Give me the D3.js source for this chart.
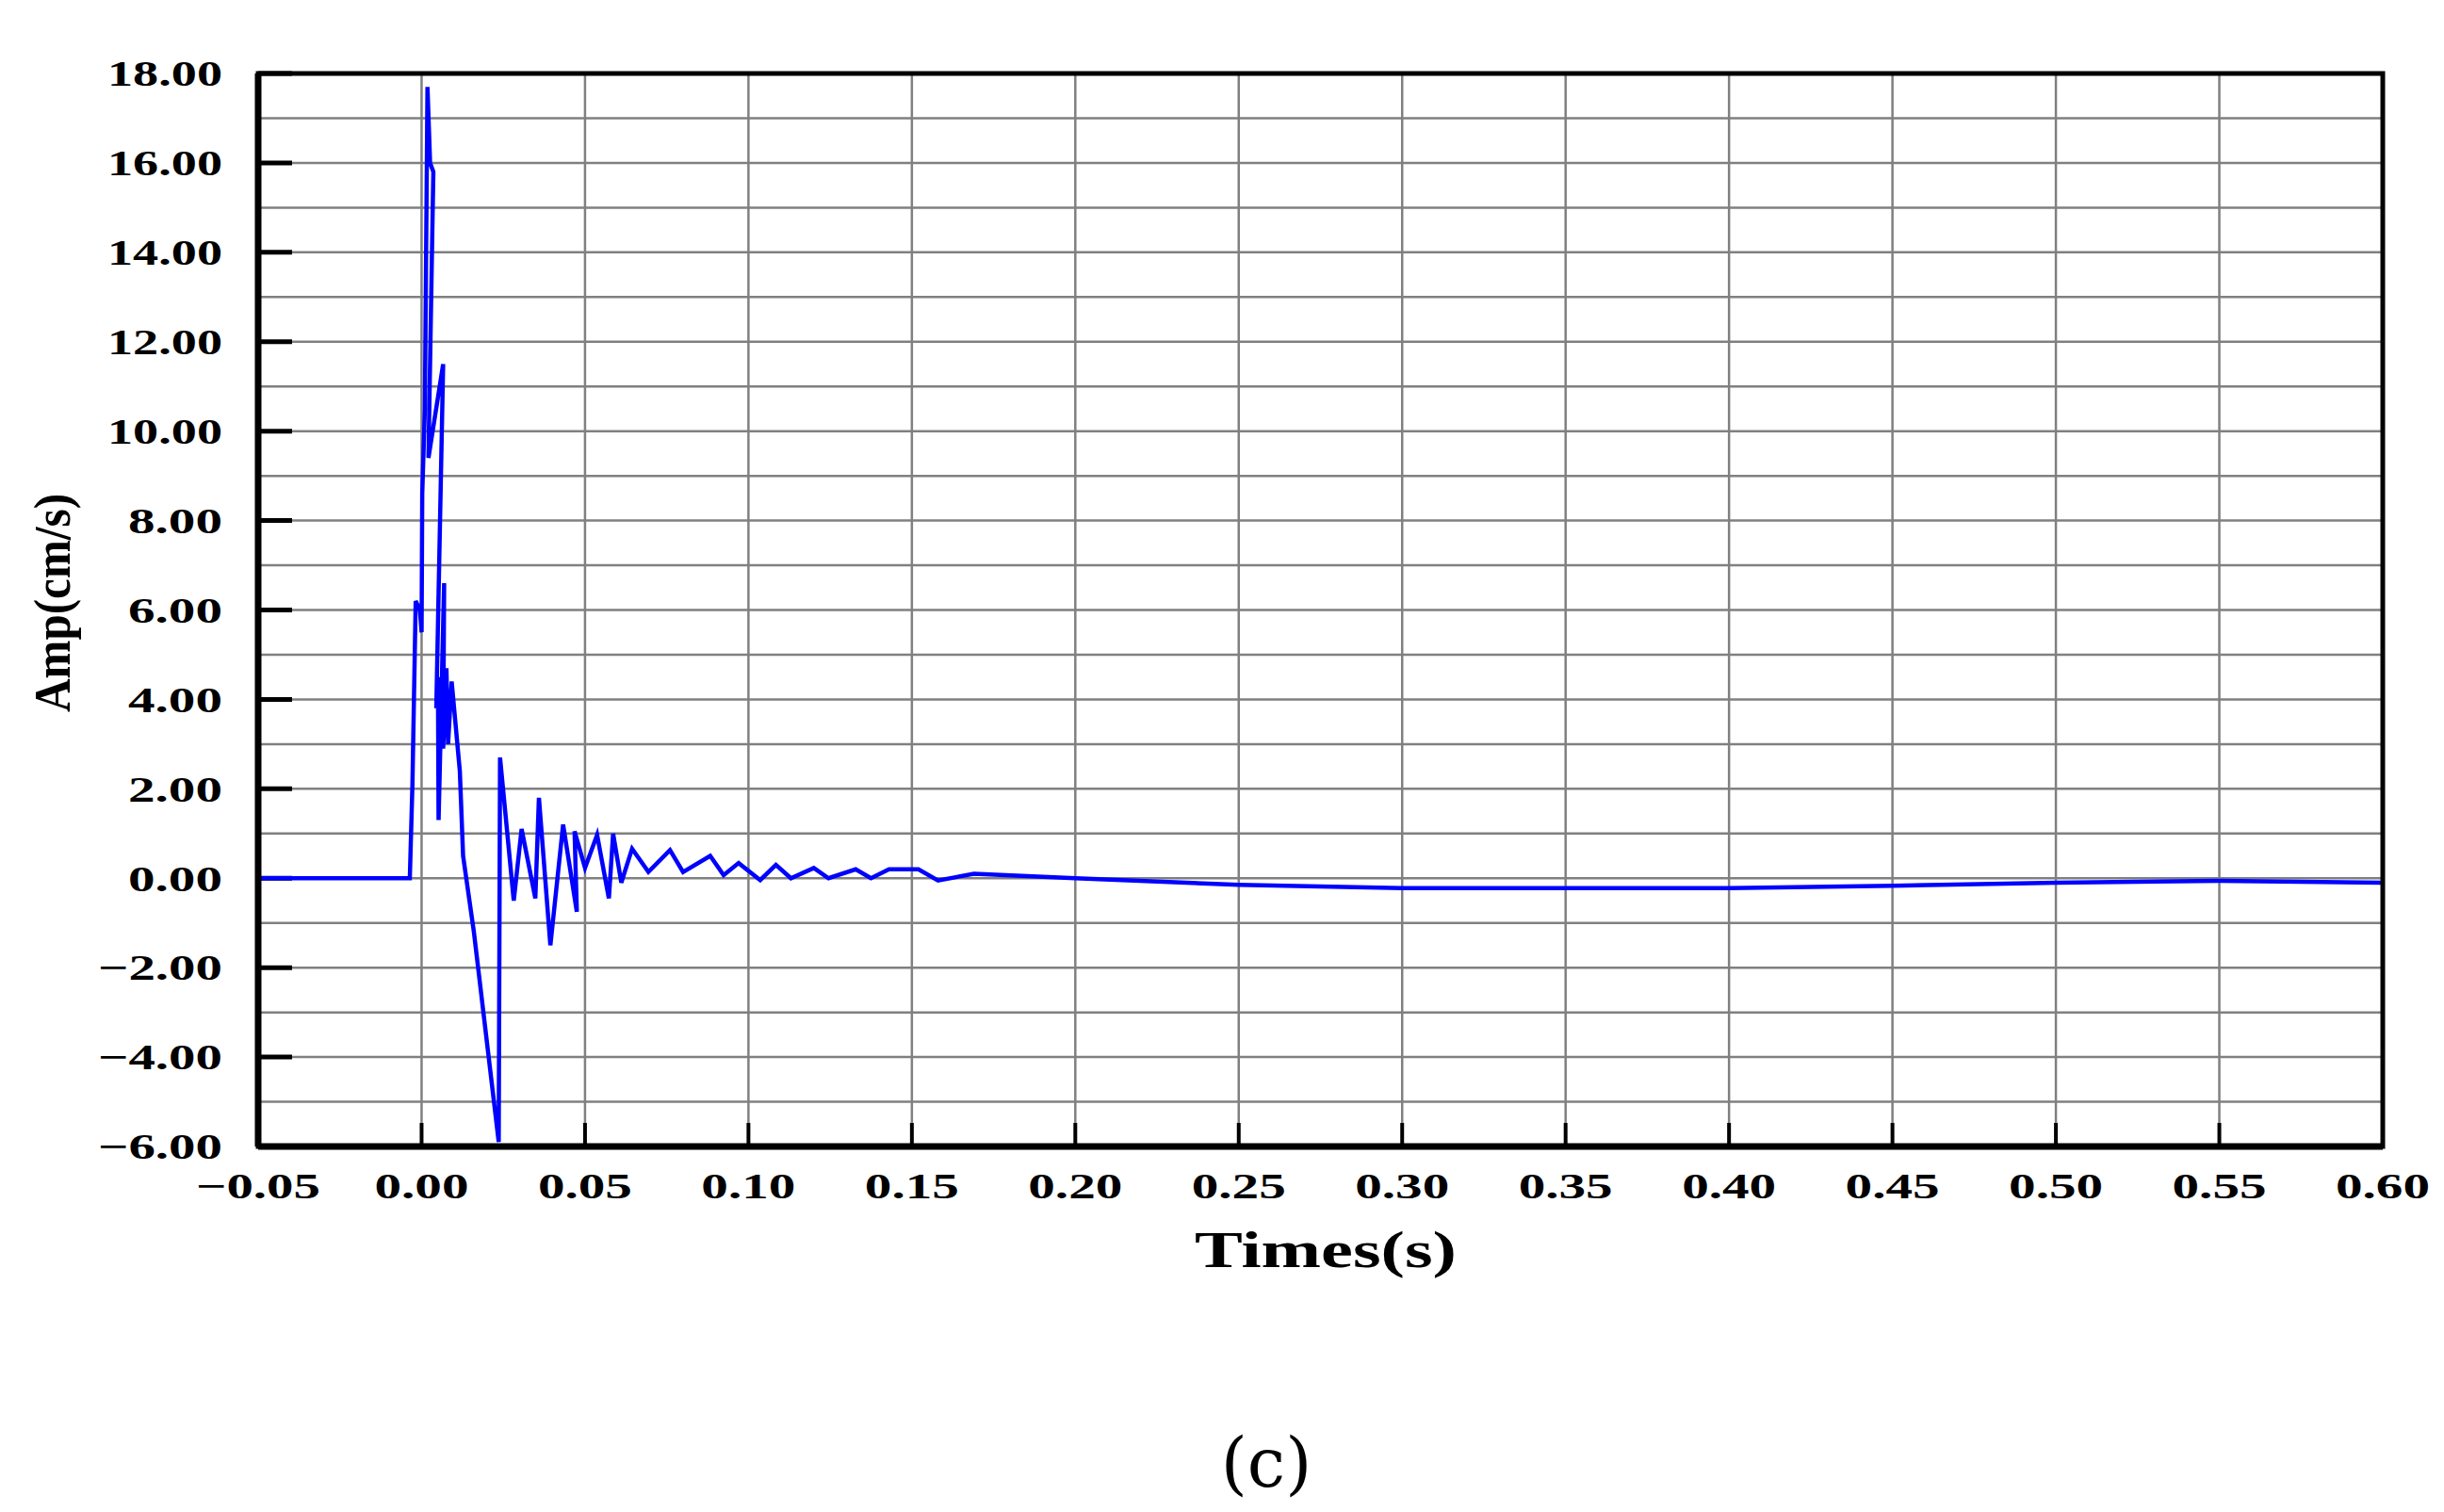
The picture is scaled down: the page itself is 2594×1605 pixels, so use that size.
<!DOCTYPE html>
<html><head><meta charset="utf-8">
<script src="https://cdn.jsdelivr.net/npm/d3@7"></script>
<style>body{margin:0;background:#fff}</style>
</head><body>
<script>
// waveform
const times = [-0.05,-0.0036,-0.0028,-0.0018,-0.0005,0,0.0002,0.001,0.0018,0.0026,0.0036,0.0021,0.0066,0.0045,0.005,0.0052,0.0069,0.0066,0.0076,0.0081,0.0092,0.0117,0.0127,0.016,0.0236,0.024,0.0282,0.0306,0.0348,0.0359,0.0394,0.0433,0.0475,0.0468,0.05,0.0537,0.0573,0.0586,0.0611,0.0644,0.0694,0.076,0.080,0.0883,0.0924,0.097,0.1036,0.1084,0.113,0.120,0.1245,0.1328,0.1375,0.143,0.152,0.158,0.169,0.2,0.25,0.3,0.35,0.4,0.45,0.5,0.55,0.6];
const amps  = [0,0,2.1,6.2,6.0,5.5,8.6,10.5,17.7,16,15.8,9.4,11.5,3.8,4.5,1.3,6.6,2.9,4.7,3.0,4.4,2.4,0.5,-1.2,-5.9,2.7,-0.5,1.1,-0.45,1.8,-1.5,1.2,-0.75,1.05,0.23,0.97,-0.45,1.0,-0.1,0.66,0.14,0.63,0.14,0.5,0.07,0.34,-0.04,0.3,0,0.23,0,0.2,0,0.2,0.2,-0.05,0.1,0,-0.15,-0.22,-0.22,-0.22,-0.17,-0.1,-0.06,-0.1];
const xTicks = d3.range(-0.05, 0.6001, 0.05);
const yTicks = d3.range(-6, 18.001, 2);
const yGrid = d3.range(-6, 18.001, 1);

const W = 2594, H = 1605;
const L = 274, R = 2541, T = 78, B = 1217;
const svg = d3.select("body").append("svg").attr("width", W).attr("height", H);
const x = d3.scaleLinear().domain([-0.05, 0.6]).range([L, R - 12]);
const y = d3.scaleLinear().domain([-6, 18]).range([B, T]);

svg.append("g").selectAll("line").data(yGrid).join("line")
  .attr("x1", L).attr("x2", x(0.6)).attr("y1", d => y(d)).attr("y2", d => y(d))
  .attr("stroke", "#808080").attr("stroke-width", 2.5);
svg.append("g").selectAll("line").data(xTicks).join("line")
  .attr("y1", T).attr("y2", B).attr("x1", d => x(d)).attr("x2", d => x(d))
  .attr("stroke", "#808080").attr("stroke-width", 2.5);

// tick marks
svg.append("g").selectAll("line").data(yTicks).join("line")
  .attr("x1", L).attr("x2", L + 36).attr("y1", d => y(d)).attr("y2", d => y(d))
  .attr("stroke", "#000").attr("stroke-width", 5);
svg.append("g").selectAll("line").data(xTicks.slice(1, -1)).join("line")
  .attr("y1", B).attr("y2", B - 25).attr("x1", d => x(d)).attr("x2", d => x(d))
  .attr("stroke", "#000").attr("stroke-width", 4);

const line = d3.line().x((d, i) => x(times[i])).y(d => y(d));
svg.append("path").datum(amps).attr("d", line)
  .attr("fill", "none").attr("stroke", "#0000ff").attr("stroke-width", 4.5).attr("stroke-linejoin", "miter");

// frame
svg.append("rect").attr("x", L).attr("y", T).attr("width", x(0.6) - L).attr("height", B - T)
  .attr("fill", "none").attr("stroke", "#000").attr("stroke-width", 5);
svg.append("line").attr("x1", L).attr("x2", L).attr("y1", T).attr("y2", B)
  .attr("stroke", "#000").attr("stroke-width", 7);
svg.append("line").attr("x1", L).attr("x2", x(0.6)).attr("y1", B).attr("y2", B)
  .attr("stroke", "#000").attr("stroke-width", 7);

const fmt = d => (d < 0 ? "\u2212" : "") + Math.abs(d).toFixed(2);
const font = "'Liberation Serif', serif";
svg.append("g").selectAll("text").data(yTicks).join("text")
  .attr("x", 236).attr("y", d => y(d)).attr("dy", "0.35em")
  .attr("text-anchor", "end").attr("font-family", font).attr("font-weight", "bold")
  .attr("font-size", 38).attr("textLength", d => d < 0 ? 132 : d >= 10 ? 122 : 100)
  .attr("lengthAdjust", "spacingAndGlyphs").text(fmt);
svg.append("g").selectAll("text").data(xTicks).join("text")
  .attr("x", d => x(d)).attr("y", 1272)
  .attr("text-anchor", "middle").attr("font-family", font).attr("font-weight", "bold")
  .attr("font-size", 38).attr("textLength", d => d < -0.01 ? 132 : 100)
  .attr("lengthAdjust", "spacingAndGlyphs").text(d => fmt(Math.round(d * 100) / 100));

svg.append("text").attr("x", 1407).attr("y", 1345).attr("text-anchor", "middle")
  .attr("font-family", font).attr("font-weight", "bold").attr("font-size", 54)
  .attr("textLength", 278).attr("lengthAdjust", "spacingAndGlyphs").text("Times(s)");
svg.append("text").attr("transform", "translate(74,640) rotate(-90)").attr("text-anchor", "middle")
  .attr("font-family", font).attr("font-weight", "bold").attr("font-size", 54)
  .attr("textLength", 232).attr("lengthAdjust", "spacingAndGlyphs").text("Amp(cm/s)");
svg.append("text").attr("x", 1344).attr("y", 1578).attr("text-anchor", "middle")
  .attr("font-family", "'DejaVu Serif', serif").attr("font-size", 72).text("(c)");
</script>
</body></html>
